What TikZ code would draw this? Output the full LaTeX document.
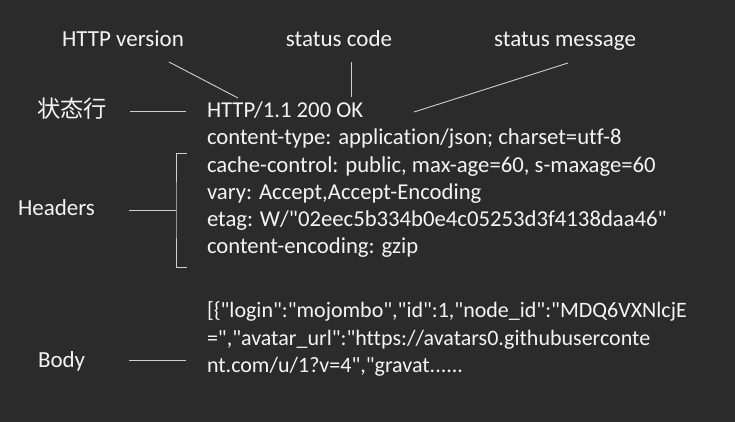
\documentclass[tikz,border=0pt]{standalone}
\usepackage{fontspec}
\setmainfont{Carlito}[Ligatures={TeXOff,CommonOff}]
\newfontfamily\cjk{Noto Sans CJK SC}
\definecolor{bg}{HTML}{2B2B2B}
\definecolor{fg}{HTML}{F4F4F4}
\definecolor{ln}{HTML}{CFCFCF}
\begin{document}
\begin{tikzpicture}[x=1pt,y=-1pt,
  every node/.style={text=fg,inner sep=0pt,outer sep=0pt},
  code/.style={anchor=base west,font=\fontsize{22.7}{27}\selectfont},
  bodytxt/.style={anchor=base west,font=\fontsize{22}{27}\selectfont},
  lab/.style={anchor=base,font=\fontsize{23}{27}\selectfont},
  conn/.style={draw=ln,line width=0.9pt}]
\fill[bg] (0,0) rectangle (735,422);
\useasboundingbox (0,0) rectangle (735,422);
% labels
\node[lab] (ver) at (123,47) {HTTP version};
\node[lab] (sc) at (339,47) {status code};
\node[lab] (sm) at (565,47) {status message};
\node[anchor=base west,font=\cjk\fontsize{23.3}{27}\selectfont] (zt) at (37,118) {状态行};
\node[anchor=base west,font=\fontsize{23}{27}\selectfont] (hd) at (18,215) {Headers};
\node[anchor=base west,font=\fontsize{23}{27}\selectfont] (bd) at (38,367) {Body};
% header block
\node[code] (l1) at (207,118) {HTTP/1.1 200 OK};
\node[code] (l2) at (207,145) {content-type: application/json; charset=utf-8};
\node[code] (l3) at (207,172) {cache-control: public, max-age=60, s-maxage=60};
\node[code] (l4) at (207,199) {vary: Accept,Accept-Encoding};
\node[code] (l5) at (207,226) {etag: W/"02eec5b334b0e4c05253d3f4138daa46"};
\node[code] (l6) at (207,253) {content-encoding: gzip};
% body
\node[bodytxt] (b1) at (207,317) {[\{"login":"mojombo","id":1,"node\_id":"MDQ6VXNlcjE};
\node[bodytxt] (b2) at (207,345) {=","avatar\_url":"https://avatars0.githubuserconte};
\node[bodytxt] (b3) at (207,372) {nt.com/u/1?v=4","gravat......};
% connector ends
\coordinate (ve1) at (169,62); \coordinate (ve2) at (238,98);
\coordinate (sc1) at (351,62); \coordinate (sc2) at (351,97);
\coordinate (sm1) at (568,63); \coordinate (sm2) at (414,112);
\coordinate (zt1) at (130,111); \coordinate (zt2) at (186,111);
\coordinate (hd1) at (129,210); \coordinate (hd2) at (176,210);
\coordinate (bt) at (187,153); \coordinate (bb) at (187,267);
\coordinate (bd1) at (129,360); \coordinate (bd2) at (186,360);
\draw[conn] (ve1) -- (ve2);
\draw[conn] (sc1) -- (sc2);
\draw[conn] (sm1) -- (sm2);
\draw[conn] (zt1) -- (zt2);
\draw[conn] (hd1) -- (hd2);
\draw[conn] (bt) -| (hd2) |- (bb);
\draw[conn] (bd1) -- (bd2);
\end{tikzpicture}
\end{document}
